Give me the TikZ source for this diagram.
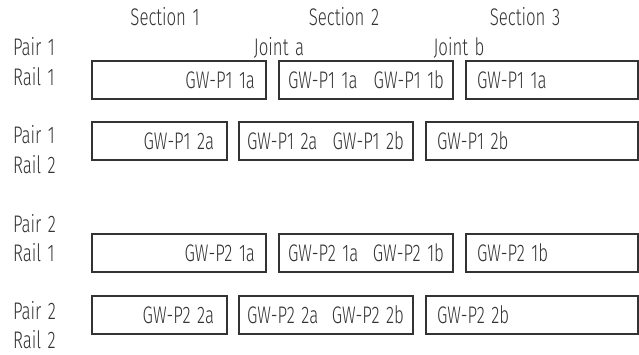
\documentclass[tikz,border=0pt]{standalone}
\usepackage{fontspec}
\setmainfont[FakeStretch=0.70,WordSpace=1.4]{Fira Sans Light}
\begin{document}
\begin{tikzpicture}[x=1pt,y=-1pt,
  every node/.style={font=\fontsize{24pt}{28pt}\selectfont, text=black!80, inner sep=0pt, outer sep=0pt},
  rail/.style={draw=black!80, line width=1.4pt, rectangle, minimum height=38pt, anchor=north west},
  lbl/.style={anchor=base west},
  hdr/.style={anchor=base},
  btxt/.style={anchor=base}]
\useasboundingbox (0,0) rectangle (639,354);
% headers
\node[hdr] (s1) at (165,25) {Section 1};
\node[hdr] (s2) at (344,25) {Section 2};
\node[hdr] (s3) at (525,25) {Section 3};
\node[hdr] (ja) at (279,55) {Joint a};
\node[hdr] (jb) at (459,55) {Joint b};
% left labels
\node[lbl] (p1a) at (13,55) {Pair 1};
\node[lbl] (r1a) at (13,85) {Rail 1};
\node[lbl] (p1b) at (13,143) {Pair 1};
\node[lbl] (r2b) at (13,173) {Rail 2};
\node[lbl] (p2a) at (13,232) {Pair 2};
\node[lbl] (r1c) at (13,261) {Rail 1};
\node[lbl] (p2b) at (13,319) {Pair 2};
\node[lbl] (r2d) at (13,348) {Rail 2};
% row 1
\node[rail, minimum width=174pt] (a1) at (92,61) {};
\node[rail, minimum width=174pt] (a2) at (279,61) {};
\node[rail, minimum width=172pt] (a3) at (466,61) {};
\node[btxt, anchor=base east] (t11) at (255,88) {GW-P1 1a};
\node[btxt, anchor=base west] (t12) at (288,88) {GW-P1 1a};
\node[btxt, anchor=base east] (t13) at (444,88) {GW-P1 1b};
\node[btxt, anchor=base west] (t14) at (477,88) {GW-P1 1a};
% row 2
\node[rail, minimum width=135pt] (b1) at (92,122) {};
\node[rail, minimum width=174pt] (b2) at (239,122) {};
\node[rail, minimum width=212pt] (b3) at (426,122) {};
\node[btxt, anchor=base east] (t21) at (214,149) {GW-P1 2a};
\node[btxt, anchor=base west] (t22) at (247,149) {GW-P1 2a};
\node[btxt, anchor=base east] (t23) at (404,149) {GW-P1 2b};
\node[btxt, anchor=base west] (t24) at (437,149) {GW-P1 2b};
% row 3
\node[rail, minimum width=174pt] (c1) at (92,234) {};
\node[rail, minimum width=174pt] (c2) at (279,234) {};
\node[rail, minimum width=172pt] (c3) at (466,234) {};
\node[btxt, anchor=base east] (t31) at (255,261) {GW-P2 1a};
\node[btxt, anchor=base west] (t32) at (288,261) {GW-P2 1a};
\node[btxt, anchor=base east] (t33) at (444,261) {GW-P2 1b};
\node[btxt, anchor=base west] (t34) at (477,261) {GW-P2 1b};
% row 4
\node[rail, minimum width=135pt] (d1) at (92,296) {};
\node[rail, minimum width=174pt] (d2) at (239,296) {};
\node[rail, minimum width=212pt] (d3) at (426,296) {};
\node[btxt, anchor=base east] (t41) at (214,323) {GW-P2 2a};
\node[btxt, anchor=base west] (t42) at (247,323) {GW-P2 2a};
\node[btxt, anchor=base east] (t43) at (404,323) {GW-P2 2b};
\node[btxt, anchor=base west] (t44) at (437,323) {GW-P2 2b};
\end{tikzpicture}
\end{document}
